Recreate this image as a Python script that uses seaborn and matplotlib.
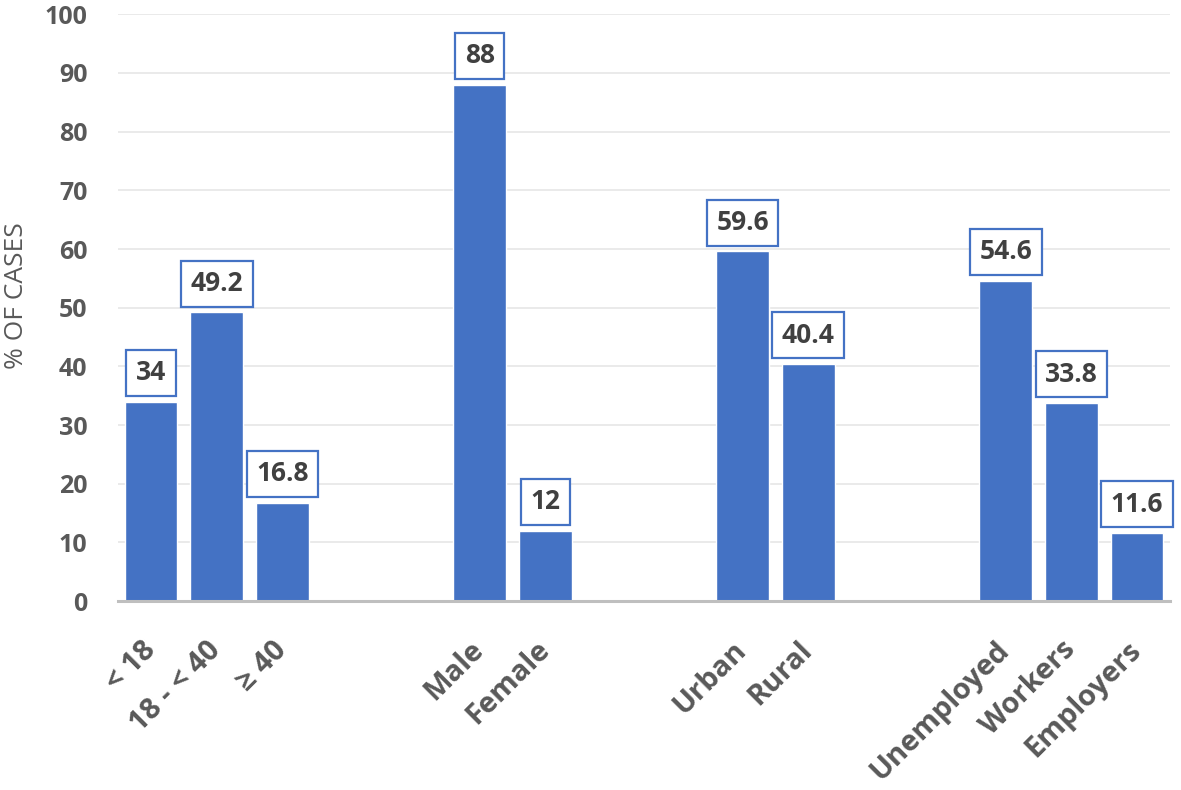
import matplotlib
matplotlib.use("Agg")
import matplotlib.pyplot as plt
import pandas as pd
import seaborn as sns

# blank slots keep the gaps between the four groups
categories = ["< 18", "18 - < 40", "\u2265 40", "_g1", "_g2", "Male", "Female", "_g3", "_g4",
              "Urban", "Rural", "_g5", "_g6", "Unemployed", "Workers", "Employers"]
bar_categories = ["< 18", "18 - < 40", "\u2265 40", "Male", "Female",
                  "Urban", "Rural", "Unemployed", "Workers", "Employers"]
percent_cases = [34, 49.2, 16.8, 88, 12, 59.6, 40.4, 54.6, 33.8, 11.6]
y_ticks = [0, 10, 20, 30, 40, 50, 60, 70, 80, 90, 100]

BLUE = "#4472C4"
GREY = "#595959"

sns.set_theme(style="white")
plt.rcParams["font.family"] = ["Open Sans", "DejaVu Sans"]

df = pd.DataFrame({"category": bar_categories, "pct": percent_cases})

fig = plt.figure(figsize=(11.81, 7.90), dpi=100)
ax = fig.add_axes([0.1, 0.239, 0.8907, 0.743])

sns.barplot(data=df, x="category", y="pct", order=categories, color=BLUE,
            saturation=1, width=0.8, ax=ax)

ax.set_ylim(0, 100)
ax.set_yticks(y_ticks)
ax.set_xlim(-0.5, len(categories) - 0.5)
ax.yaxis.grid(True, color="#E6E6E6", linewidth=1.2)
ax.set_axisbelow(True)

for side in ["top", "right", "left"]:
    ax.spines[side].set_visible(False)
ax.spines["bottom"].set_color("#BFBFBF")
ax.spines["bottom"].set_linewidth(2.2)

ax.set_xticks(range(len(categories)))
ax.set_xticklabels([c if not c.startswith("_") else "" for c in categories],
                   rotation=45, ha="right", va="center", rotation_mode="anchor",
                   fontsize=21, fontweight="bold", color=GREY)
ax.tick_params(axis="x", length=0, pad=32)
ax.tick_params(axis="y", length=0, pad=22, labelsize=18, labelcolor=GREY)
for lbl in ax.get_yticklabels():
    lbl.set_fontweight("bold")

ax.set_xlabel("")
ax.set_ylabel("% OF CASES", fontsize=19, color=GREY, va="center")
ax.yaxis.set_label_coords(-0.097, 0.52)

for container in ax.containers:
    labels = ax.bar_label(container, fmt="%g", padding=11, fontsize=19,
                          fontweight="bold", color="#404040")
    for t in labels:
        t.set_bbox(dict(boxstyle="square,pad=0.36", facecolor="white",
                        edgecolor=BLUE, linewidth=1.6))

fig.savefig("out.png", dpi=100)
